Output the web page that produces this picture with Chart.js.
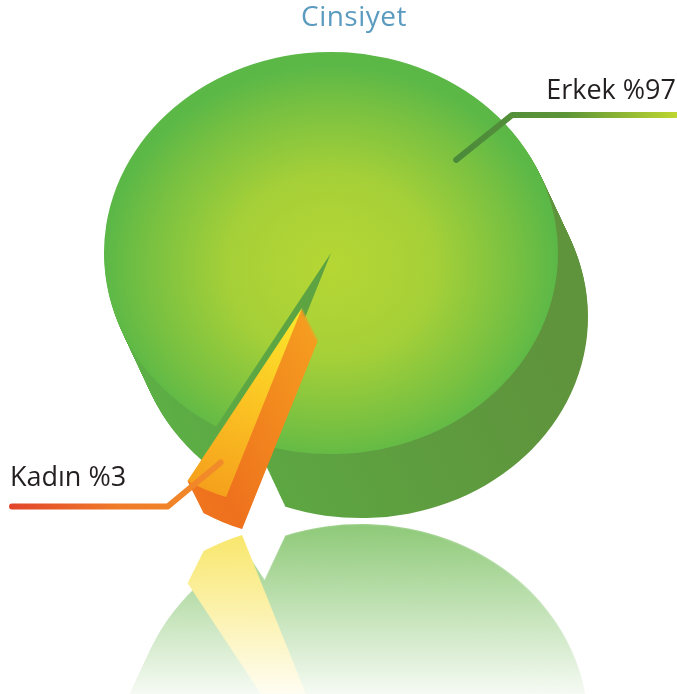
<!DOCTYPE html>
<html>
<head>
<meta charset="utf-8">
<script src="https://cdn.jsdelivr.net/npm/chart.js@4.4.1/dist/chart.umd.min.js"></script>
<style>
  html, body { margin: 0; padding: 0; background: #fff; }
  #wrap { width: 677px; height: 694px; }
</style>
</head>
<body>
<div id="wrap"><canvas id="pie"></canvas></div>
<script>
// Data
const labels = ['Erkek', 'Kadın'];
const shares = [97, 3];
const labelText = ['Erkek %97', 'Kadın %3'];
const titleText = 'Cinsiyet';

// Look of the fake 3D pie
const TILT = 0.886;                 // vertical squash of the top face
const DEPTH = [[30, 64], [16, 32]]; // extrusion vector per slice (px)
const EXPLODE = [0, 68];            // how far each slice is pulled out
const SIDE_STEPS = 60;

const topStops = [
  [[0, '#b6d734'], [0.45, '#a6d038'], [0.8, '#79c141'], [1, '#5bb847']],
  [[0, '#fde92c'], [0.5, '#fbc523'], [1, '#f5a01c']]
];
const sideStops = [
  [[0, '#5cb146'], [1, '#5f933c']],
  [[0, '#f59d1f'], [1, '#ee6e1d']]
];
const mirrorColors = ['#86c56f', '#f8e459'];

// Leader lines: angle shift from slice middle (deg), radius fraction, elbow vector
const leaderShift = [25, 0];
const leaderFrac = [0.72, 0.85];
const leaderElbow = [[56, -45], [-53, 44]];
const leaderStops = [
  [[0, '#4b8a3b'], [0.5, '#5c9438'], [1, '#bdd630']],
  [[0, '#e2462a'], [0.5, '#ef7a28'], [1, '#f28c2a']]
];

function midAngle(arc) { return (arc.startAngle + arc.endAngle) / 2; }

function tilt(ctx, arc, i) {
  const mid = midAngle(arc), e = EXPLODE[i];
  ctx.translate(0, arc.y);
  ctx.scale(1, TILT);
  ctx.translate(Math.cos(mid) * e, Math.sin(mid) * e - arc.y);
}

function withOpts(arc, patch, fn) {
  const saved = arc.options;
  arc.options = Object.assign({}, saved, patch);
  fn();
  arc.options = saved;
}

function grad(g, stops) {
  stops.forEach(([o, c]) => g.addColorStop(o, c));
  return g;
}

function drawBody(ctx, arc, i, sideFill, topFill) {
  const [dx, dy] = DEPTH[i];
  for (let k = SIDE_STEPS; k >= 1; k--) {
    ctx.save();
    ctx.translate(dx * k / SIDE_STEPS, dy * k / SIDE_STEPS);
    tilt(ctx, arc, i);
    withOpts(arc, { backgroundColor: sideFill, borderWidth: 0 }, () => arc.draw(ctx));
    ctx.restore();
  }
  ctx.save();
  tilt(ctx, arc, i);
  withOpts(arc, { backgroundColor: topFill, borderWidth: 0 }, () => arc.draw(ctx));
  ctx.restore();
}

function lowestY(arc, i) {
  const mid = midAngle(arc), e = EXPLODE[i];
  const ey = Math.sin(mid) * e;
  let best = arc.y + ey * TILT;
  for (let t = 0; t <= 1.0001; t += 0.01) {
    const a = arc.startAngle + (arc.endAngle - arc.startAngle) * t;
    best = Math.max(best, arc.y + (ey + arc.outerRadius * Math.sin(a)) * TILT);
  }
  return best + DEPTH[i][1];
}

function pointOn(arc, i, angle, frac) {
  const mid = midAngle(arc), e = EXPLODE[i];
  const ux = Math.cos(mid) * e + Math.cos(angle) * arc.outerRadius * frac;
  const uy = Math.sin(mid) * e + Math.sin(angle) * arc.outerRadius * frac;
  return [arc.x + ux, arc.y + uy * TILT];
}

const pie3d = {
  id: 'pie3d',
  beforeDatasetsDraw(chart) {
    const ctx = chart.ctx;
    const arcs = chart.getDatasetMeta(0).data;

    // reflection under each slice
    let top = Infinity;
    arcs.forEach((arc, i) => {
      const yb = lowestY(arc, i) + 3;
      top = Math.min(top, yb);
      ctx.save();
      ctx.globalAlpha = 0.85;
      ctx.translate(0, 2 * yb);
      ctx.scale(1, -1);
      drawBody(ctx, arc, i, mirrorColors[i], mirrorColors[i]);
      ctx.restore();
    });
    const fade = ctx.createLinearGradient(0, top, 0, chart.height);
    fade.addColorStop(0, 'rgba(255,255,255,0.05)');
    fade.addColorStop(1, 'rgba(255,255,255,0.92)');
    ctx.fillStyle = fade;
    ctx.fillRect(0, top, chart.width, chart.height - top);

    // the pie itself
    arcs.forEach((arc, i) => {
      const r = arc.outerRadius, cx = arc.x, cy = arc.y, mid = midAngle(arc);
      let sideFill, topFill;
      if (i === 0) {
        sideFill = grad(ctx.createLinearGradient(cx - r, 0, cx + r, 0), sideStops[i]);
        topFill = grad(ctx.createRadialGradient(cx, cy + 15, 0, cx, cy + 15, r), topStops[i]);
      } else {
        sideFill = grad(ctx.createLinearGradient(0, cy, 0, cy + r), sideStops[i]);
        topFill = grad(ctx.createLinearGradient(cx, cy, cx + Math.cos(mid) * r, cy + Math.sin(mid) * r), topStops[i]);
      }
      drawBody(ctx, arc, i, sideFill, topFill);
    });
    return false;
  },
  afterDraw(chart) {
    const ctx = chart.ctx;
    const arcs = chart.getDatasetMeta(0).data;
    ctx.save();

    // title
    ctx.font = '28px "Open Sans", sans-serif';
    ctx.letterSpacing = '0.5px';
    ctx.fillStyle = '#5b9bc0';
    ctx.textAlign = 'center';
    ctx.textBaseline = 'alphabetic';
    ctx.fillText(titleText, 354, 26);
    ctx.letterSpacing = '0px';

    // leader lines and labels
    ctx.lineWidth = 6;
    ctx.lineCap = 'round';
    ctx.lineJoin = 'round';
    ctx.font = '27px "Open Sans", sans-serif';
    ctx.fillStyle = '#231f20';
    arcs.forEach((arc, i) => {
      const a = midAngle(arc) + leaderShift[i] * Math.PI / 180;
      const [ax, ay] = pointOn(arc, i, a, leaderFrac[i]);
      const ex = ax + leaderElbow[i][0], ey = ay + leaderElbow[i][1];
      const endX = leaderElbow[i][0] > 0 ? chart.width - 1 : 12;
      ctx.strokeStyle = grad(ctx.createLinearGradient(Math.min(ax, endX), 0, Math.max(ax, endX), 0), leaderStops[i]);
      ctx.beginPath();
      ctx.moveTo(ax, ay);
      ctx.lineTo(ex, ey);
      ctx.lineTo(endX, ey);
      ctx.stroke();
      if (leaderElbow[i][0] > 0) {
        ctx.textAlign = 'right';
        ctx.fillText(labelText[i], chart.width - 1, ey - 16);
      } else {
        ctx.textAlign = 'left';
        ctx.fillText(labelText[i], 10, ey - 21);
      }
    });
    ctx.restore();
  }
};

new Chart(document.getElementById('pie'), {
  type: 'pie',
  data: {
    labels: labels,
    datasets: [{
      data: shares,
      backgroundColor: ['#7cc242', '#f9b81f'],
      borderWidth: 0
    }]
  },
  options: {
    responsive: true,
    maintainAspectRatio: false,
    animation: false,
    rotation: 210.4,
    layout: { padding: { top: 26, left: 104, right: 119, bottom: 214 } },
    plugins: {
      legend: { display: false },
      tooltip: { enabled: false },
      title: { display: false }
    }
  },
  plugins: [pie3d]
});
</script>
</body>
</html>
